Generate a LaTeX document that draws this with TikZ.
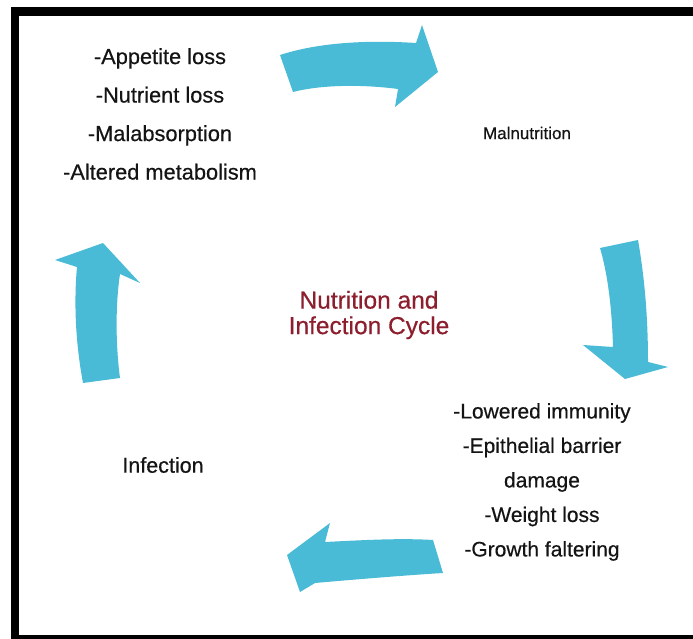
\documentclass[tikz,border=0pt]{standalone}
\usepackage{fontspec}
\setmainfont{Liberation Sans}[FakeBold=0.45]
\definecolor{cyclecyan}{RGB}{74,187,214}
\definecolor{titlered}{RGB}{140,30,45}
\definecolor{labelgray}{RGB}{20,20,20}
\tikzset{
  cyclearrow/.style={fill=cyclecyan, draw=none},
  listtext/.style={text=labelgray, align=center, font=\fontsize{21.8}{38.5}\selectfont, inner sep=0pt},
  stagetext/.style={text=labelgray, inner sep=0pt},
  titletext/.style={text=titlered, align=center, font=\fontsize{24.5}{25.5}\selectfont, inner sep=0pt}
}
\begin{document}
\begin{tikzpicture}[x=1pt,y=-1pt]
  \useasboundingbox (0,0) rectangle (693,639);
  % heavy black frame
  \fill[black] (11,7) rectangle (693,639);
  \fill[white] (19,16) rectangle (693,635);

  % curved block arrows of the cycle
  \fill[cyclearrow] (280,55) .. controls (320,42) and (370,40) .. (416,43)
    -- (422,25) -- (438,72) -- (395,107) -- (398,89)
    .. controls (360,84) and (320,85) .. (293,92) -- cycle;
  \fill[cyclearrow] (600,248) -- (638,240)
    .. controls (645,280) and (648,320) .. (648,362)
    -- (668,367) -- (625,379) -- (583,345) -- (613,347)
    .. controls (612,310) and (608,275) .. (600,248) -- cycle;
  \fill[cyclearrow] (433,540) -- (443,573)
    .. controls (410,575) and (360,579) .. (315,583)
    -- (300,592) -- (287,555) -- (330,523) -- (325,542)
    .. controls (365,540) and (400,538) .. (433,540) -- cycle;
  \fill[cyclearrow] (83,383) -- (120,378)
    .. controls (115,340) and (116,300) .. (120,274)
    -- (140,283) -- (103,243) -- (55,260) -- (77,267)
    .. controls (74,300) and (75,340) .. (83,383) -- cycle;

  % labels
  \node[listtext] (causes) at (160,114) {-Appetite loss\\-Nutrient loss\\-Malabsorption\\-Altered metabolism};
  \node[stagetext, font=\fontsize{17}{20}\selectfont] (maln) at (527,133) {Malnutrition};
  \node[titletext] (title) at (369,315) {Nutrition and\\Infection Cycle};
  \node[listtext, font=\fontsize{21}{34.5}\selectfont] (effects) at (542,482) {-Lowered immunity\\-Epithelial barrier\\damage\\-Weight loss\\-Growth faltering};
  \node[stagetext, font=\fontsize{21.5}{24}\selectfont] (infect) at (163,465) {Infection};
\end{tikzpicture}
\end{document}
